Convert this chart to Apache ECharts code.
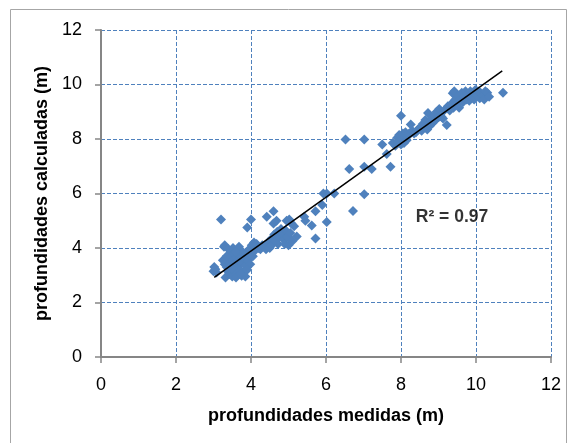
<!DOCTYPE html>
<html><head><meta charset="utf-8">
<script src="https://cdn.jsdelivr.net/npm/echarts@6/dist/echarts.min.js"></script>
<style>html,body{margin:0;padding:0;background:#fff}#c{width:570px;height:443px}</style>
</head><body><div id="c"></div>
<script>
const xTicks = [0, 2, 4, 6, 8, 10, 12];
const yTicks = [0, 2, 4, 6, 8, 10, 12];
const xTitle = 'profundidades medidas (m)';
const yTitle = 'profundidades calculadas (m)';
const r2Text = 'R² = 0.97';
const r2Pos = [9.36, 5.14];
const trendLine = [[3.02, 2.92], [10.70, 10.50]];
const lowCluster = [[3.00,3.15],[3.02,3.30],[3.05,3.22],[3.08,3.10],[3.20,5.05],[3.28,4.05],[3.30,4.10],[3.32,2.92],[3.30,3.40],[3.35,3.30],[3.38,3.15],[3.40,3.50],[3.42,3.05],[3.45,3.35],[3.48,3.60],[3.50,2.95],[3.52,4.00],[3.55,3.20],[3.55,3.45],[3.58,3.70],[3.60,3.05],[3.62,3.35],[3.65,3.55],[3.65,3.90],[3.68,4.05],[3.70,3.20],[3.72,3.70],[3.75,2.98],[3.75,3.45],[3.78,3.85],[3.80,3.10],[3.82,3.60],[3.85,3.35],[3.85,2.95],[3.88,3.80],[3.90,4.75],[3.92,3.55],[3.95,3.95],[3.98,3.40],[4.00,5.05],[4.02,4.10],[4.05,3.70],[4.08,4.20],[4.10,3.90],[4.15,4.15],[4.20,4.00],[4.25,3.95],[4.30,4.10],[3.45,3.80],[3.25,3.55],[3.60,2.92],[3.35,3.70],[3.72,3.05],[3.40,3.95],[3.58,3.85],[3.90,3.20],[3.50,3.25]];
const midCluster = [[4.35,4.05],[4.40,3.95],[4.42,5.15],[4.45,4.20],[4.50,4.00],[4.55,4.10],[4.55,4.35],[4.60,5.35],[4.60,4.90],[4.62,4.50],[4.65,4.25],[4.68,5.00],[4.70,4.60],[4.72,4.15],[4.75,4.40],[4.80,4.70],[4.85,4.50],[4.88,4.30],[4.90,4.15],[4.92,4.65],[4.95,5.00],[4.98,4.40],[5.00,4.10],[5.02,5.05],[5.05,4.55],[5.08,4.90],[5.10,4.25],[5.15,4.80],[5.22,4.42],[5.42,5.15],[5.45,5.00],[5.62,4.83],[5.72,5.35],[5.72,4.35],[5.90,5.58],[5.93,6.00],[6.02,6.00],[6.02,4.95],[6.22,6.00]];
const upperMid = [[6.52,7.98],[6.62,6.90],[6.72,5.36],[7.02,7.98],[7.02,6.98],[7.02,5.97],[7.22,6.90],[7.50,7.80],[7.62,7.45],[7.72,6.98],[7.78,7.85],[7.85,7.75],[7.90,8.05],[7.92,7.90],[7.95,8.15],[8.00,8.85],[8.00,7.80],[8.02,8.00],[8.05,8.20],[8.08,7.85],[8.10,8.05],[8.12,8.25],[8.15,7.95],[8.18,8.10],[8.22,8.20],[8.26,8.53],[8.30,8.30],[8.35,8.20]];
const upperCluster = [[8.40,8.25],[8.45,8.35],[8.50,8.40],[8.55,8.30],[8.58,8.55],[8.62,8.45],[8.65,8.70],[8.70,8.35],[8.72,8.95],[8.75,8.60],[8.78,8.50],[8.82,8.75],[8.85,8.60],[8.88,8.85],[8.92,8.70],[8.95,9.00],[9.00,8.80],[9.02,9.10],[9.08,8.82],[9.12,8.75],[9.15,9.05],[9.22,8.51],[9.25,9.20],[9.30,9.05],[9.35,9.30],[9.38,9.68],[9.42,9.75],[9.40,9.15],[9.45,9.45],[9.50,9.30],[9.52,9.60],[9.55,9.15],[9.58,9.45],[9.62,9.70],[9.65,9.35],[9.68,9.55],[9.72,9.75],[9.75,9.45],[9.78,9.65],[9.82,9.40],[9.85,9.75],[9.88,9.55],[9.92,9.70],[9.95,9.45],[9.98,9.80],[10.02,9.60],[10.05,9.75],[10.10,9.50],[10.12,9.70],[10.18,9.60],[10.22,9.45],[10.25,9.75],[10.30,9.70],[10.35,9.55],[10.72,9.70]];

const points = lowCluster.concat(midCluster, upperMid, upperCluster);
const blue = '#4F81BD';
const gray = '#868686';
const font = '"Liberation Sans", Arial, sans-serif';

const axisCommon = {
  type: 'value', min: xTicks[0], max: xTicks[xTicks.length-1], interval: 2,
  axisLine: { show: true, lineStyle: { color: gray, width: 2 } },
  axisTick: { show: true, inside: false, length: 6, lineStyle: { color: gray, width: 1.5 } },
  splitLine: { show: true, lineStyle: { color: blue, type: [4, 2], width: 1 } },
  axisLabel: { color: '#000', fontSize: 18, fontFamily: font },
  nameLocation: 'middle',
  nameTextStyle: { color: '#000', fontSize: 18, fontWeight: 'bold', fontFamily: font }
};

const chart = echarts.init(document.getElementById('c'), null, { renderer: 'canvas' });
chart.setOption({
  animation: false,
  backgroundColor: '#fff',
  graphic: [{ type: 'rect', shape: { x: 10.5, y: 9.5, width: 556, height: 450 }, style: { fill: 'none', stroke: '#a6a6a6', lineWidth: 1 }, silent: true }],
  grid: { left: 101, right: 19, top: 30, bottom: 86, containLabel: false, outerBoundsMode: 'none' },
  xAxis: Object.assign({}, axisCommon, { name: xTitle, nameGap: 50, axisLabel: Object.assign({}, axisCommon.axisLabel, { margin: 19 }) }),
  yAxis: Object.assign({}, axisCommon, { min: yTicks[0], max: yTicks[yTicks.length-1], name: yTitle, nameGap: 45, axisLabel: Object.assign({}, axisCommon.axisLabel, { margin: 19 }) }),
  series: [
    { type: 'scatter', data: points, symbol: 'diamond', symbolSize: 10, itemStyle: { color: blue, opacity: 1 }, z: 2 },
    { type: 'line', data: trendLine, symbol: 'none', lineStyle: { color: '#000', width: 1.5 }, z: 3, silent: true },
    { type: 'scatter', data: [r2Pos], symbolSize: 0, z: 4,
      label: { show: true, position: 'inside', formatter: r2Text, color: '#000', fontSize: 17.5, fontWeight: 'bold', fontFamily: font } }
  ]
});
</script></body></html>
